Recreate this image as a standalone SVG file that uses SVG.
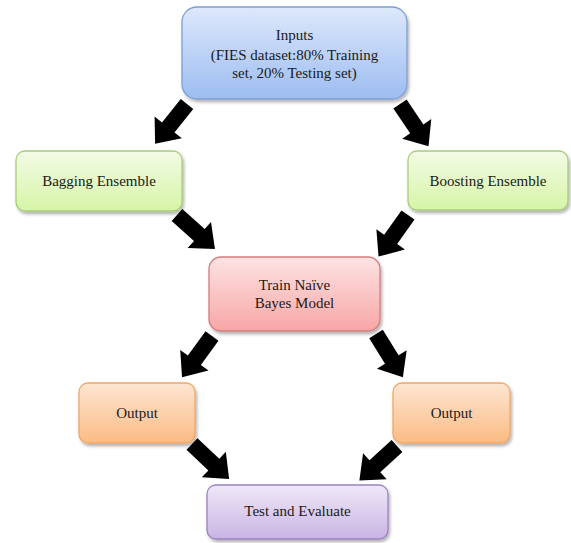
<svg xmlns="http://www.w3.org/2000/svg" width="571" height="543" viewBox="0 0 571 543">
<style>
text{font-family:"Liberation Serif","Times New Roman",serif;font-size:15px;fill:#1a1a1a;text-anchor:middle}
.box{stroke-width:1.3;filter:url(#sh)}
.arrow{fill:#000}
</style>
<defs>
<filter id="sh" x="-10%" y="-10%" width="125%" height="135%">
<feDropShadow dx="1.5" dy="2.5" stdDeviation="1.6" flood-color="#000" flood-opacity="0.3"/>
</filter>
<linearGradient id="gBlue" x1="0" y1="0" x2="0" y2="1"><stop offset="0" stop-color="#dde8fb"/><stop offset="1" stop-color="#9dbdf2"/></linearGradient>
<linearGradient id="gGreen" x1="0" y1="0" x2="0" y2="1"><stop offset="0" stop-color="#f3fbe6"/><stop offset="1" stop-color="#d6f5a6"/></linearGradient>
<linearGradient id="gPink" x1="0" y1="0" x2="0" y2="1"><stop offset="0" stop-color="#fde3e3"/><stop offset="1" stop-color="#f8a6a6"/></linearGradient>
<linearGradient id="gOrange" x1="0" y1="0" x2="0" y2="1"><stop offset="0" stop-color="#fde6d2"/><stop offset="1" stop-color="#fbbb84"/></linearGradient>
<linearGradient id="gPurple" x1="0" y1="0" x2="0" y2="1"><stop offset="0" stop-color="#efe8f8"/><stop offset="1" stop-color="#c9b4e4"/></linearGradient>
<path id="arr" d="M0,-8 L30,-8 L30,-17.5 L51,0 L30,17.5 L30,8 L0,8 Z"/>
</defs>

<g id="connectors" class="arrow">
<use href="#arr" transform="translate(187,104) rotate(128.7)"/>
<use href="#arr" transform="translate(400,104) rotate(56)"/>
<use href="#arr" transform="translate(177,215) rotate(41.9)"/>
<use href="#arr" transform="translate(408,215) rotate(125.3)"/>
<use href="#arr" transform="translate(212,336) rotate(126)"/>
<use href="#arr" transform="translate(376,334) rotate(58.2)"/>
<use href="#arr" transform="translate(192,444) rotate(43.3)"/>
<use href="#arr" transform="translate(397,446) rotate(137.5)"/>
</g>

<g id="inputs">
<rect class="box" x="182" y="7" width="225" height="92" rx="15" fill="url(#gBlue)" stroke="#7d9fd4"/>
<text x="294.5" y="40">Inputs</text>
<text x="294.5" y="60">(FIES dataset:80% Training</text>
<text x="294.5" y="78">set, 20% Testing set)</text>
</g>

<g id="bagging">
<rect class="box" x="16" y="151" width="166" height="60" rx="9" fill="url(#gGreen)" stroke="#a9cb7c"/>
<text x="99" y="186">Bagging Ensemble</text>
</g>

<g id="boosting">
<rect class="box" x="408" y="151" width="160" height="59" rx="9" fill="url(#gGreen)" stroke="#a9cb7c"/>
<text x="488" y="186">Boosting Ensemble</text>
</g>

<g id="train">
<rect class="box" x="209" y="257" width="171" height="74" rx="12" fill="url(#gPink)" stroke="#d27f7f"/>
<text x="294.5" y="290">Train Naïve</text>
<text x="294.5" y="308">Bayes Model</text>
</g>

<g id="output-left">
<rect class="box" x="79" y="383" width="116" height="60" rx="9" fill="url(#gOrange)" stroke="#f1a766"/>
<text x="137" y="418">Output</text>
</g>

<g id="output-right">
<rect class="box" x="393" y="383" width="117" height="60" rx="9" fill="url(#gOrange)" stroke="#f1a766"/>
<text x="451.5" y="418">Output</text>
</g>

<g id="test">
<rect class="box" x="207" y="485" width="181" height="54" rx="9" fill="url(#gPurple)" stroke="#9c82c0"/>
<text x="297.5" y="516">Test and Evaluate</text>
</g>
</svg>
